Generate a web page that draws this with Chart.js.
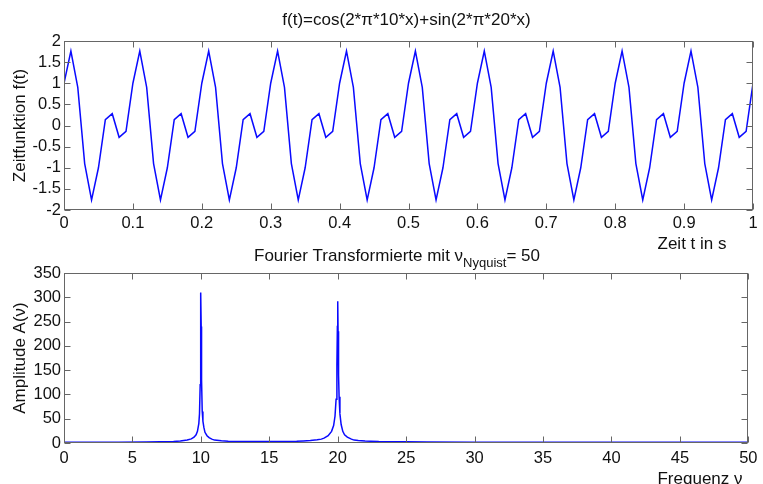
<!DOCTYPE html>
<html>
<head>
<meta charset="utf-8">
<script src="https://cdn.jsdelivr.net/npm/chart.js@4"></script>
<style>
  html, body { margin: 0; padding: 0; background: #fff; }
  #wrap { position: relative; width: 763px; height: 484px; overflow: hidden; }
  .panel { position: absolute; left: 0; width: 763px; }
  #topPanel { top: 0; height: 255px; }
  #botPanel { top: 240px; height: 244px; }
</style>
</head>
<body>
<div id="wrap">
  <div class="panel" id="topPanel"><canvas id="timeChart"></canvas></div>
  <div class="panel" id="botPanel"><canvas id="freqChart"></canvas></div>
</div>
<script>
// Sampling instants (s) of the time signal
const sampleTimes = [
  0, 0.01, 0.02, 0.03, 0.04, 0.05, 0.06, 0.07, 0.08, 0.09,
  0.1, 0.11, 0.12, 0.13, 0.14, 0.15, 0.16, 0.17, 0.18, 0.19,
  0.2, 0.21, 0.22, 0.23, 0.24, 0.25, 0.26, 0.27, 0.28, 0.29,
  0.3, 0.31, 0.32, 0.33, 0.34, 0.35, 0.36, 0.37, 0.38, 0.39,
  0.4, 0.41, 0.42, 0.43, 0.44, 0.45, 0.46, 0.47, 0.48, 0.49,
  0.5, 0.51, 0.52, 0.53, 0.54, 0.55, 0.56, 0.57, 0.58, 0.59,
  0.6, 0.61, 0.62, 0.63, 0.64, 0.65, 0.66, 0.67, 0.68, 0.69,
  0.7, 0.71, 0.72, 0.73, 0.74, 0.75, 0.76, 0.77, 0.78, 0.79,
  0.8, 0.81, 0.82, 0.83, 0.84, 0.85, 0.86, 0.87, 0.88, 0.89,
  0.9, 0.91, 0.92, 0.93, 0.94, 0.95, 0.96, 0.97, 0.98, 0.99,
  1
];

// Zeitfunktion f(t) at each sampling instant
const signalValues = [
  1.0, 1.76, 0.9, -0.9, -1.76, -1.0, 0.14, 0.28, -0.28, -0.14,
  1.0, 1.76, 0.9, -0.9, -1.76, -1.0, 0.14, 0.28, -0.28, -0.14,
  1.0, 1.76, 0.9, -0.9, -1.76, -1.0, 0.14, 0.28, -0.28, -0.14,
  1.0, 1.76, 0.9, -0.9, -1.76, -1.0, 0.14, 0.28, -0.28, -0.14,
  1.0, 1.76, 0.9, -0.9, -1.76, -1.0, 0.14, 0.28, -0.28, -0.14,
  1.0, 1.76, 0.9, -0.9, -1.76, -1.0, 0.14, 0.28, -0.28, -0.14,
  1.0, 1.76, 0.9, -0.9, -1.76, -1.0, 0.14, 0.28, -0.28, -0.14,
  1.0, 1.76, 0.9, -0.9, -1.76, -1.0, 0.14, 0.28, -0.28, -0.14,
  1.0, 1.76, 0.9, -0.9, -1.76, -1.0, 0.14, 0.28, -0.28, -0.14,
  1.0, 1.76, 0.9, -0.9, -1.76, -1.0, 0.14, 0.28, -0.28, -0.14,
  1.0
];

// Spectrum: frequencies (Hz) and amplitudes A(nu)
const spectrumFreqs = [
  0, 2, 4, 6, 7, 7.5, 8, 8.5, 9, 9.3, 9.5, 9.65, 9.75, 9.85, 9.9, 9.95, 9.975,
  10, 10.025, 10.05, 10.1, 10.15, 10.22, 10.3, 10.45, 10.6, 10.8, 11, 11.5, 12,
  13, 14, 15, 16, 17, 17.5, 18, 18.5, 18.8, 19, 19.3, 19.55, 19.7, 19.8, 19.88,
  19.94, 19.975, 20, 20.025, 20.06, 20.1, 20.16, 20.25, 20.37, 20.5, 20.7, 21,
  21.2, 21.5, 22, 22.4, 23, 24, 25, 26.5, 30, 40, 50
];
const spectrumAmps = [
  1.5, 1.5, 1.7, 2, 2.5, 2.8, 3.2, 4, 6, 8.5, 12, 17, 24, 40, 60, 120, 240,
  310, 240, 130, 65, 45, 32, 22, 15, 11, 8, 6, 4.5, 3.5,
  3, 3, 3, 3.2, 3.7, 4.3, 5.2, 6.5, 8, 10, 15, 24, 36, 55, 90,
  160, 240, 292, 230, 140, 95, 60, 38, 24, 17, 12, 8,
  6, 5, 4, 3.5, 3, 2.8, 2.5, 2, 1.5, 1.5, 1.5
];

// Axis tick settings
const timeTicks = { min: 0, max: 1, step: 0.1 };
const signalTicks = { min: -2, max: 2, step: 0.5 };
const freqTicks = { min: 0, max: 50, step: 5 };
const ampTicks = { min: 0, max: 350, step: 50 };

const FONT = "'Liberation Sans', Arial, sans-serif";
const TEXT_COLOR = '#111';
const FRAME_COLOR = '#666';
const LINE_COLOR = '#0a0aff';

function fmt(v) {
  return String(Math.round(v * 1000) / 1000);
}

// Boxed axes with inward tick marks on all four sides
const frameTicks = {
  id: 'frameTicks',
  afterDraw(chart) {
    const { ctx, chartArea: a, scales } = chart;
    const L = Math.round(a.left) + 0.5, R = Math.round(a.right) - 0.5;
    const T = Math.round(a.top) + 0.5, B = Math.round(a.bottom) - 0.5;
    const len = 6;
    ctx.save();
    ctx.strokeStyle = FRAME_COLOR;
    ctx.lineWidth = 1;
    ctx.beginPath();
    scales.x.ticks.forEach(t => {
      const p = Math.round(scales.x.getPixelForValue(t.value)) + 0.5;
      ctx.moveTo(p, B); ctx.lineTo(p, B - len);
      ctx.moveTo(p, T); ctx.lineTo(p, T + len);
    });
    scales.y.ticks.forEach(t => {
      const p = Math.round(scales.y.getPixelForValue(t.value)) + 0.5;
      ctx.moveTo(L, p); ctx.lineTo(L + len, p);
      ctx.moveTo(R, p); ctx.lineTo(R - len, p);
    });
    ctx.stroke();
    ctx.strokeRect(L, T, R - L, B - T);
    ctx.restore();
  }
};

// Titles and axis captions
function textPlugin(draw) {
  return { id: 'captions', afterDraw(chart) { const ctx = chart.ctx; ctx.save(); ctx.fillStyle = TEXT_COLOR; draw(ctx); ctx.restore(); } };
}

function baseOptions(xt, yt, pad, xAxisHeight, xTickPad) {
  return {
    responsive: true,
    maintainAspectRatio: false,
    animation: false,
    devicePixelRatio: 1,
    layout: { padding: pad },
    plugins: { legend: { display: false }, tooltip: { enabled: false } },
    elements: { point: { radius: 0 }, line: { tension: 0, borderWidth: 1.5 } },
    scales: {
      x: {
        type: 'linear', min: xt.min, max: xt.max,
        grid: { display: false, drawTicks: false },
        border: { display: false },
        afterFit(s) { s.height = xAxisHeight; },
        ticks: {
          stepSize: xt.step, padding: xTickPad, maxRotation: 0, autoSkip: false,
          color: TEXT_COLOR, font: { family: FONT, size: 16.5 },
          callback: v => fmt(v)
        }
      },
      y: {
        type: 'linear', min: yt.min, max: yt.max,
        grid: { display: false, drawTicks: false },
        border: { display: false },
        afterFit(s) { s.width = 64; },
        ticks: {
          stepSize: yt.step, padding: 3, autoSkip: false,
          color: TEXT_COLOR, font: { family: FONT, size: 16.5 },
          callback: v => fmt(v)
        }
      }
    }
  };
}

new Chart(document.getElementById('timeChart'), {
  type: 'line',
  data: {
    labels: sampleTimes,
    datasets: [{ data: signalValues, borderColor: LINE_COLOR, fill: false }]
  },
  options: baseOptions(timeTicks, signalTicks, { left: 0, right: 10, top: 41, bottom: 0 }, 45, 3.5),
  plugins: [frameTicks, textPlugin(ctx => {
    ctx.font = '17px ' + FONT;
    ctx.textBaseline = 'alphabetic';
    ctx.textAlign = 'center';
    ctx.fillText('f(t)=cos(2*\u03c0*10*x)+sin(2*\u03c0*20*x)', 406.5, 25);
    ctx.fillText('Zeit t in s', 692, 249);
    ctx.save();
    ctx.translate(20, 125.5);
    ctx.rotate(-Math.PI / 2);
    ctx.textBaseline = 'middle';
    ctx.fillText('Zeitfunktion f(t)', 0, 0);
    ctx.restore();
  })]
});

new Chart(document.getElementById('freqChart'), {
  type: 'line',
  data: {
    labels: spectrumFreqs,
    datasets: [{ data: spectrumAmps, borderColor: LINE_COLOR, fill: false }]
  },
  options: baseOptions(freqTicks, ampTicks, { left: 0, right: 10, top: 33, bottom: 0 }, 41, 5.5),
  plugins: [frameTicks, textPlugin(ctx => {
    ctx.textBaseline = 'alphabetic';
    ctx.textAlign = 'left';
    const main1 = 'Fourier Transformierte mit \u03bd';
    const sub = 'Nyquist';
    const main2 = '= 50';
    let x = 254;
    const y = 21;
    ctx.font = '17px ' + FONT;
    ctx.fillText(main1, x, y);
    x += ctx.measureText(main1).width;
    ctx.font = '13px ' + FONT;
    ctx.fillText(sub, x, y + 6);
    x += ctx.measureText(sub).width;
    ctx.font = '17px ' + FONT;
    ctx.fillText(main2, x, y);

    ctx.textAlign = 'center';
    ctx.fillText('Frequenz \u03bd', 700, 244);
    ctx.save();
    ctx.translate(20, 118);
    ctx.rotate(-Math.PI / 2);
    ctx.textBaseline = 'middle';
    ctx.fillText('Amplitude A(\u03bd)', 0, 0);
    ctx.restore();
  })]
});
</script>
</body>
</html>
